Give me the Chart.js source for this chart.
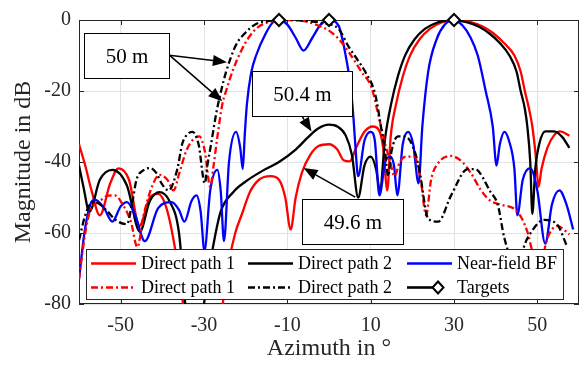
<!DOCTYPE html>
<html><head><meta charset="utf-8">
<script src="https://cdn.jsdelivr.net/npm/chart.js@4/dist/chart.umd.min.js"></script>
<style>html,body{margin:0;padding:0;background:#fff}canvas{display:block}</style>
</head><body>
<canvas id="c" width="587" height="365"></canvas>
<script>
// ---- tick labels / categories ----
const xTicks = [-50, -30, -10, 10, 30, 50];
const yTicks = [0, -20, -40, -60, -80];
const seriesLabels = ['Direct path 1', 'Direct path 2', 'Near-field BF', 'Direct path 1', 'Direct path 2', 'Targets'];

// ---- Direct path 1 (solid, red) ----
const dp1SolidX = [-60,-58.5,-57,-55,-52.5,-50.5,-48,-45.5,-43,-41,-39,-37,-35,-33,-27,-25.5,-24,-22.5,-21,-19,-16.8,-14,-12,-10.5,-9.2,-8,-6.5,-4.5,-2.5,0,2,3.5,5,6.5,8.5,10.5,12,13,14,14.8,16.1,17.7,19.5,21.7,24.2,27,30.3,34,37,39.5,42,44.5,46,47,48,48.8,49.6,50.3,51,52.4,54,55.5,57.7];
const dp1SolidY = [-35,-41,-48,-55,-46,-41.8,-45,-58,-50,-49,-53,-64,-80,-95,-95,-80,-68,-60,-55,-48.5,-45,-44,-45,-50,-59,-50,-43,-38,-35.5,-35,-36.5,-39.5,-39.8,-36,-31.5,-30,-31,-36,-48,-33,-23.7,-16,-9.9,-5.5,-2.5,-0.7,0,-0.6,-1.9,-3.8,-6.5,-10,-14.5,-20,-25,-30,-38,-47,-42,-36,-32.5,-31.4,-32.6];

// ---- Direct path 2 (solid, black) ----
const dp2SolidX = [-60,-59,-57.5,-55,-52,-48.5,-45.4,-43,-40.7,-38.3,-36,-34.5,-33,-31,-30,-28,-26,-23,-20,-16,-12,-8,-5,-2.5,0,2,4,5.5,7,8.5,10,11.3,12.2,13.5,14.9,16.5,18.3,20.5,23,26,29.3,33,36,38.5,41,43.3,45,46,47,47.6,48.3,48.8,49.5,50.5,51.9,54,56,57.7];
const dp2SolidY = [-41,-46.6,-54,-45,-42.2,-46.6,-59.6,-51,-48.5,-51,-60,-80,-95,-95,-80,-65,-54,-48.5,-45.5,-42.5,-40,-36.5,-33,-30.5,-29.5,-30,-32.5,-38,-50,-41,-38.5,-42,-48,-33,-23.7,-16,-9.9,-5.5,-2.5,-0.7,0,-0.6,-1.9,-3.8,-6.5,-10,-14.5,-20,-25,-30,-40,-54.6,-42,-34.8,-31.4,-31.4,-33,-36];

// ---- Near-field BF (solid, blue) ----
const nfX = [-60,-58.7,-57.3,-56.2,-54,-52,-50,-48.5,-46.5,-44.2,-41,-37.8,-36,-34.7,-33,-31.8,-30.8,-29.9,-28.5,-26.8,-26,-25.2,-24,-22.3,-21.3,-20.7,-20.2,-19.7,-18.7,-17.5,-15.1,-13.5,-12,-10,-8,-6.1,-4,-2,0,2.3,4,5.2,5.9,6.3,7,8.5,10,11,12.1,13.5,14.7,15.6,16.4,17.7,19,20.2,21.5,22.4,23.8,25.8,27.8,29.8,32,34,35.7,37.6,39.3,40.2,41,42.1,43.2,44.5,45.2,46.5,48.3,50,51.9,53.5,55.3,57,58.6];
const nfY = [-73,-60,-52,-50.6,-53,-56.8,-52.5,-51.3,-55,-62.3,-53,-51.3,-53.5,-56.8,-51,-49.4,-54,-65,-48,-42.2,-48,-62.3,-40,-31.5,-36,-42,-32,-23.7,-15,-10,-3.6,-0.7,0,-1.3,-5,-8.6,-5,-1.3,0,-1.6,-10,-19,-28,-35,-44,-34,-31.5,-34,-49.4,-40,-38.5,-41,-49.4,-35,-31.5,-35,-46,-30,-14.6,-5.5,-1.3,0,-1.5,-5,-10,-20,-30,-41,-35,-31.5,-34,-42,-55,-45,-41.7,-48,-63,-52,-48,-52,-59];

// ---- Direct path 1 (dash-dot, red) ----
const dp1DashX = [-60,-58.5,-57.4,-55,-53,-51.4,-49.5,-47.5,-46,-44.5,-42.5,-40.7,-38.8,-37.3,-35.9,-34.2,-32.5,-31.1,-29.8,-28.5,-27.7,-26.8,-25.6,-24.7,-23.2,-21,-19,-16.8,-14,-10,-6,-2.5,0,2.3,5,7.8,10.2,11.8,13.5,14.7,15.7,17,18.5,20.5,22,23.3,24.5,26.2,29.3,32,34,36.5,38.8,41.2,45.2,47.6,49,50.5,52.4,54.8,57.7];
const dp1DashY = [-73,-60,-54,-51,-49.5,-49.4,-52,-57,-64,-55,-47,-43.6,-45,-48,-43,-36.7,-33.5,-32.8,-37,-47,-41,-33,-23.7,-20,-14.6,-8.5,-4.5,-1.8,-0.5,0,-0.3,-1.6,-3,-5.3,-9.5,-14.6,-19,-26.5,-35,-40,-44,-40,-38.5,-38.5,-45,-55,-45,-40.3,-38.3,-40,-43,-48,-51,-52,-54,-59.6,-66,-70,-61.5,-58,-60.4];

// ---- Direct path 2 (dash-dot, black) ----
const dp2DashX = [-60,-58.5,-56.7,-55.5,-53.5,-51,-48.5,-47.3,-46.2,-44.5,-43,-41.5,-40.2,-38.5,-36.4,-35.2,-33.8,-32.8,-31.3,-29.8,-29.2,-28.3,-27.1,-25.9,-24.7,-22.3,-20,-17.5,-14,-10,-5,-1,2.3,4.7,7,8.7,11.1,12.6,13.5,14.2,15,16.6,18.3,20.7,21.8,23.8,26.2,29.3,33.3,35,38.8,40.5,42.1,44,45.5,47.6,51.7,54.8,57.2];
const dp2DashY = [-62,-55,-51.3,-51.5,-53.5,-56.5,-57.5,-52,-45,-42.3,-41.7,-43,-46,-48,-42,-34.8,-32,-31.5,-35,-46,-41,-35,-26.5,-20,-14.6,-7,-3.5,-1.1,-0.2,0,-0.3,-1,-2.5,-7.5,-11.5,-14.6,-21,-31,-37.5,-44,-37,-32.8,-32.8,-37.5,-43,-56,-56.8,-49.4,-42,-42,-48.5,-52,-61.5,-67,-67,-61.5,-56.3,-57.7,-64];

// ---- Targets ----
const targetsX = [-12, 0, 30];
const targetsY = [0, 0, 0];

// ---- annotations (data coordinates) ----
const noteTexts = ['50 m', '50.4 m', '49.6 m'];
const noteBoxes = [[-58.8,-3.6,-38.3,-16.3], [-18.5,-14.3,5.6,-27.0], [-6.6,-50.5,17.8,-63.2]];
const noteArrows = [
  [[-38.3,-9.9,-24.5,-11.9], [-38.3,-9.9,-25.6,-22.9]],
  [[-7.3,-25.5,-4.2,-31.4]],
  [[6.3,-49.9,-6.1,-41.7]]
];

const RED = '#ff0000', BLACK = '#000000', BLUE = '#0000ff';
const DASHDOT = [7, 3, 2, 3];
const FONT = '"Liberation Serif", "Times New Roman", serif';

function pts(xs, ys) { return xs.map((x, i) => ({x: x, y: ys[i]})); }
function lineDs(i, xs, ys, color, dash) {
  return {
    label: seriesLabels[i], data: pts(xs, ys), borderColor: color, backgroundColor: color,
    borderWidth: 2.3, borderDash: dash, pointRadius: 0, fill: false,
    cubicInterpolationMode: 'monotone', order: -i
  };
}

const datasets = [
  lineDs(0, dp1SolidX, dp1SolidY, RED, []),
  lineDs(1, dp2SolidX, dp2SolidY, BLACK, []),
  lineDs(2, nfX, nfY, BLUE, []),
  lineDs(3, dp1DashX, dp1DashY, RED, DASHDOT),
  lineDs(4, dp2DashX, dp2DashY, BLACK, DASHDOT),
  {
    label: seriesLabels[5], data: pts(targetsX, targetsY), showLine: false,
    pointStyle: 'rectRot', pointRadius: 6, pointBorderWidth: 2,
    pointBorderColor: BLACK, pointBackgroundColor: '#ffffff',
    borderColor: BLACK, backgroundColor: '#ffffff', clip: false, order: -5
  }
];

function arrow(ctx, x0, y0, x1, y1) {
  const ang = Math.atan2(y1 - y0, x1 - x0), L = 14, W = 5.5;
  const bx = x1 - L * Math.cos(ang), by = y1 - L * Math.sin(ang);
  ctx.beginPath(); ctx.moveTo(x0, y0); ctx.lineTo(bx, by); ctx.stroke();
  ctx.beginPath();
  ctx.moveTo(x1, y1);
  ctx.lineTo(bx + W * Math.sin(ang), by - W * Math.cos(ang));
  ctx.lineTo(bx - W * Math.sin(ang), by + W * Math.cos(ang));
  ctx.closePath(); ctx.fill();
}

const overlay = {
  id: 'overlay',
  beforeDatasetsDraw(chart) {
    const {ctx, chartArea: a, scales: {x, y}} = chart;
    ctx.save();
    ctx.strokeStyle = '#262626'; ctx.lineWidth = 1;
    ctx.strokeRect(a.left + 0.5, a.top + 0.5, a.right - a.left - 1, a.bottom - a.top - 1);
    ctx.beginPath();
    xTicks.forEach(v => {
      const px = Math.round(x.getPixelForValue(v)) + 0.5;
      ctx.moveTo(px, a.bottom); ctx.lineTo(px, a.bottom - 5);
      ctx.moveTo(px, a.top); ctx.lineTo(px, a.top + 5);
    });
    yTicks.forEach(v => {
      const py = Math.round(y.getPixelForValue(v)) + 0.5;
      ctx.moveTo(a.left, py); ctx.lineTo(a.left + 5, py);
      ctx.moveTo(a.right, py); ctx.lineTo(a.right - 5, py);
    });
    ctx.stroke();
    ctx.restore();
  },
  afterDatasetsDraw(chart) {
    const {ctx, chartArea: a, scales: {x, y}} = chart;
    ctx.save();
    // legend
    const L = a.left + 7, T = a.bottom - 55, R = a.right - 15, B = a.bottom - 4;
    ctx.fillStyle = '#fff'; ctx.fillRect(L, T, R - L, B - T);
    ctx.strokeStyle = '#262626'; ctx.lineWidth = 1;
    ctx.strokeRect(L + 0.5, T + 0.5, R - L - 1, B - T - 1);
    const colX = [L + 5, L + 162, L + 321];
    const rowY = [T + 14.5, T + 38.5];
    ctx.font = '18px ' + FONT; ctx.textBaseline = 'middle'; ctx.textAlign = 'left';
    chart.data.datasets.forEach((ds, i) => {
      const cx = colX[i % 3], cy = rowY[Math.floor(i / 3)];
      ctx.save();
      ctx.strokeStyle = ds.borderColor; ctx.lineWidth = 2.6;
      if (i === 5) {
        ctx.beginPath(); ctx.moveTo(cx, cy); ctx.lineTo(cx + 31, cy); ctx.stroke();
        ctx.lineWidth = 2; ctx.fillStyle = '#fff';
        ctx.beginPath(); ctx.moveTo(cx + 31, cy - 6); ctx.lineTo(cx + 36.5, cy); ctx.lineTo(cx + 31, cy + 6); ctx.lineTo(cx + 25.5, cy); ctx.closePath();
        ctx.fill(); ctx.stroke();
      } else {
        ctx.setLineDash(ds.borderDash || []);
        ctx.beginPath(); ctx.moveTo(cx, cy); ctx.lineTo(cx + 45, cy); ctx.stroke();
      }
      ctx.restore();
      ctx.fillStyle = '#000';
      ctx.fillText(ds.label, cx + 50, cy + 1);
    });
    // annotations
    ctx.strokeStyle = '#000'; ctx.fillStyle = '#000'; ctx.lineWidth = 1.5;
    noteArrows.forEach(list => list.forEach(ar => {
      arrow(ctx, x.getPixelForValue(ar[0]), y.getPixelForValue(ar[1]), x.getPixelForValue(ar[2]), y.getPixelForValue(ar[3]));
    }));
    noteBoxes.forEach((b, i) => {
      const x0 = Math.round(x.getPixelForValue(b[0])) + 0.5, y0 = Math.round(y.getPixelForValue(b[1])) + 0.5;
      const x1 = Math.round(x.getPixelForValue(b[2])) + 0.5, y1 = Math.round(y.getPixelForValue(b[3])) + 0.5;
      ctx.fillStyle = '#fff'; ctx.fillRect(x0, y0, x1 - x0, y1 - y0);
      ctx.strokeStyle = '#000'; ctx.lineWidth = 1; ctx.strokeRect(x0, y0, x1 - x0, y1 - y0);
      ctx.fillStyle = '#000'; ctx.font = '21px ' + FONT; ctx.textAlign = 'center'; ctx.textBaseline = 'middle';
      ctx.fillText(noteTexts[i], (x0 + x1) / 2, (y0 + y1) / 2 + 1);
    });
    ctx.restore();
  },
  afterDraw(chart) {
    const {ctx, chartArea: a} = chart;
    ctx.save();
    ctx.fillStyle = '#262626'; ctx.font = '24px ' + FONT;
    ctx.textAlign = 'center'; ctx.textBaseline = 'middle';
    ctx.fillText('Azimuth in °', (a.left + a.right) / 2, 349);
    ctx.translate(24, (a.top + a.bottom) / 2); ctx.rotate(-Math.PI / 2);
    ctx.fillText('Magnitude in dB', 0, 0);
    ctx.restore();
  }
};

new Chart(document.getElementById('c'), {
  type: 'line',
  data: {datasets: datasets},
  options: {
    responsive: false, animation: false, devicePixelRatio: 1,
    layout: {padding: {left: 0, right: 5, top: 14, bottom: 0}},
    plugins: {legend: {display: false}, tooltip: {enabled: false}},
    scales: {
      x: {
        type: 'linear', min: -60, max: 60,
        afterBuildTicks: s => { s.ticks = xTicks.map(v => ({value: v})); },
        afterFit: s => { s.height = 61; },
        grid: {color: '#e2e2e2', drawTicks: false, lineWidth: 1},
        border: {display: false},
        ticks: {autoSkip: false, maxRotation: 0, padding: 10, color: '#262626', font: {family: FONT, size: 20}}
      },
      y: {
        type: 'linear', min: -80, max: 0,
        afterBuildTicks: s => { s.ticks = yTicks.slice().reverse().map(v => ({value: v})); },
        afterFit: s => { s.width = 79; },
        grid: {color: '#e2e2e2', drawTicks: false, lineWidth: 1},
        border: {display: false},
        ticks: {padding: 8, color: '#262626', font: {family: FONT, size: 20}}
      }
    }
  },
  plugins: [overlay]
});
</script>
</body></html>
